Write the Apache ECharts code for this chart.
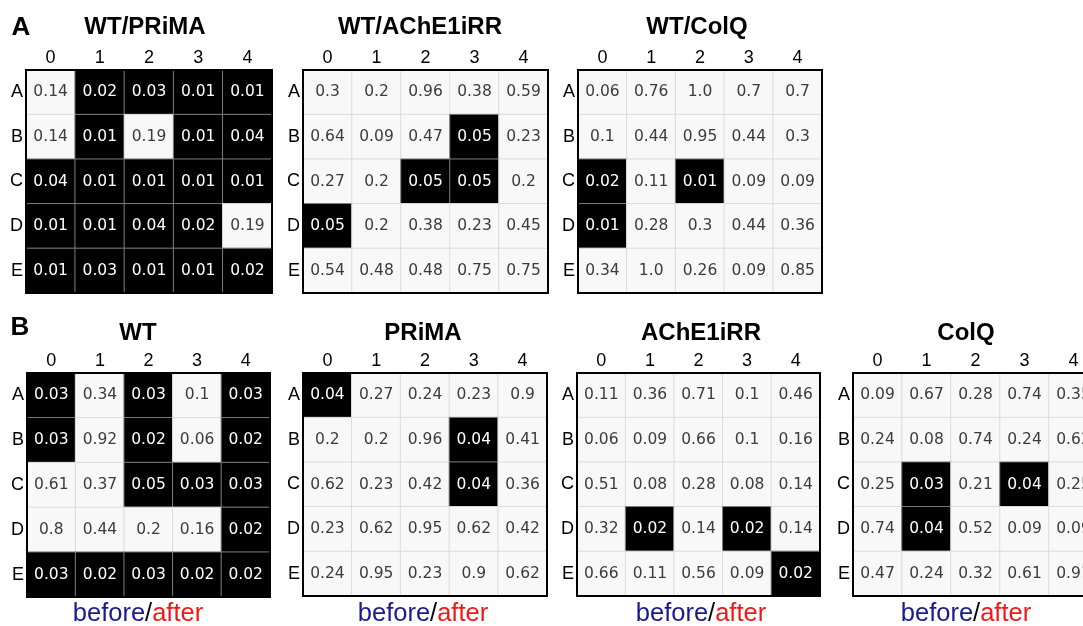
<!DOCTYPE html>
<html><head><meta charset="utf-8">
<script src="https://cdn.jsdelivr.net/npm/echarts@6/dist/echarts.min.js"></script>
<style>html,body{margin:0;padding:0;background:#fff}#c{width:1083px;height:626px}</style>
</head><body><div id="c"></div>
<script>
// ---- data ----
const colLabels = ['0', '1', '2', '3', '4'];
const rowLabels = ['A', 'B', 'C', 'D', 'E'];
const panelTitles = ['WT/PRiMA', 'WT/AChE1iRR', 'WT/ColQ', 'WT', 'PRiMA', 'AChE1iRR', 'ColQ'];
const sectionLetters = ['A', 'B'];
const wtPrima = [
  [0.14, 0.02, 0.03, 0.01, 0.01],
  [0.14, 0.01, 0.19, 0.01, 0.04],
  [0.04, 0.01, 0.01, 0.01, 0.01],
  [0.01, 0.01, 0.04, 0.02, 0.19],
  [0.01, 0.03, 0.01, 0.01, 0.02]
];
const wtAche = [
  [0.3, 0.2, 0.96, 0.38, 0.59],
  [0.64, 0.09, 0.47, 0.05, 0.23],
  [0.27, 0.2, 0.05, 0.05, 0.2],
  [0.05, 0.2, 0.38, 0.23, 0.45],
  [0.54, 0.48, 0.48, 0.75, 0.75]
];
const wtColq = [
  [0.06, 0.76, 1.0, 0.7, 0.7],
  [0.1, 0.44, 0.95, 0.44, 0.3],
  [0.02, 0.11, 0.01, 0.09, 0.09],
  [0.01, 0.28, 0.3, 0.44, 0.36],
  [0.34, 1.0, 0.26, 0.09, 0.85]
];
const wt = [
  [0.03, 0.34, 0.03, 0.1, 0.03],
  [0.03, 0.92, 0.02, 0.06, 0.02],
  [0.61, 0.37, 0.05, 0.03, 0.03],
  [0.8, 0.44, 0.2, 0.16, 0.02],
  [0.03, 0.02, 0.03, 0.02, 0.02]
];
const prima = [
  [0.04, 0.27, 0.24, 0.23, 0.9],
  [0.2, 0.2, 0.96, 0.04, 0.41],
  [0.62, 0.23, 0.42, 0.04, 0.36],
  [0.23, 0.62, 0.95, 0.62, 0.42],
  [0.24, 0.95, 0.23, 0.9, 0.62]
];
const ache = [
  [0.11, 0.36, 0.71, 0.1, 0.46],
  [0.06, 0.09, 0.66, 0.1, 0.16],
  [0.51, 0.08, 0.28, 0.08, 0.14],
  [0.32, 0.02, 0.14, 0.02, 0.14],
  [0.66, 0.11, 0.56, 0.09, 0.02]
];
const colq = [
  [0.09, 0.67, 0.28, 0.74, 0.35],
  [0.24, 0.08, 0.74, 0.24, 0.62],
  [0.25, 0.03, 0.21, 0.04, 0.25],
  [0.74, 0.04, 0.52, 0.09, 0.09],
  [0.47, 0.24, 0.32, 0.61, 0.91]
];
const panelValues = [wtPrima, wtAche, wtColq, wt, prima, ache, colq];
const threshold = 0.05;

// ---- layout ----
const gridBoxes = [
  {left: 26, top: 70, width: 246, height: 223},
  {left: 303, top: 70, width: 245, height: 223},
  {left: 578, top: 70, width: 244, height: 223},
  {left: 27, top: 373, width: 243, height: 224},
  {left: 303, top: 373, width: 244, height: 223},
  {left: 577, top: 373, width: 243, height: 223},
  {left: 853, top: 373, width: 245, height: 223}
];
const titleCenters = [145, 420, 697, 138, 423, 701, 966];
const letterPos = [{x: 21, y: 28}, {x: 20, y: 328}];
const footerPanels = [3, 4, 5, 6];

const fmt = v => Number.isInteger(v) ? v.toFixed(1) : String(v);
const AX_FONT = 'Liberation Sans, Arial, sans-serif';

const grids = [], xAxes = [], yAxes = [], series = [], titles = [];
panelValues.forEach((vals, i) => {
  const g = gridBoxes[i];
  grids.push({left: g.left, top: g.top, width: g.width, height: g.height, show: true,
    outerBoundsMode: 'none', containLabel: false,
    backgroundColor: 'transparent', borderColor: '#000', borderWidth: 2, z: 10});
  xAxes.push({gridIndex: i, type: 'category', data: colLabels, position: 'top',
    axisLine: {show: false}, axisTick: {show: false}, splitLine: {show: false},
    axisLabel: {fontSize: 18, color: '#000', margin: 3, fontFamily: AX_FONT}});
  yAxes.push({gridIndex: i, type: 'category', data: rowLabels, inverse: true,
    axisLine: {show: false}, axisTick: {show: false}, splitLine: {show: false},
    axisLabel: {fontSize: 18, color: '#000', margin: 3, fontFamily: AX_FONT}});
  const data = [];
  vals.forEach((row, ri) => row.forEach((v, ci) => {
    const dark = v <= threshold;
    data.push({
      value: [ci, ri, v],
      itemStyle: {color: dark ? '#000' : '#f8f8f8', borderColor: dark ? '#7c7c7c' : '#dcdcdc', borderWidth: 1},
      label: {color: dark ? '#fff' : '#3c3c3c'}
    });
  }));
  series.push({type: 'heatmap', xAxisIndex: i, yAxisIndex: i, data: data, z: 2,
    label: {show: true, fontSize: 15.5, fontFamily: 'DejaVu Sans, sans-serif', formatter: p => fmt(p.value[2])},
    emphasis: {disabled: true}});
  titles.push({text: panelTitles[i], left: titleCenters[i], top: i < 3 ? 27 : 333,
    textAlign: 'center', textVerticalAlign: 'middle', padding: 0,
    textStyle: {fontSize: 24, fontWeight: 'bold', color: '#000', fontFamily: AX_FONT}});
});
sectionLetters.forEach((s, k) => {
  titles.push({text: s, left: letterPos[k].x, top: letterPos[k].y, textAlign: 'center',
    textVerticalAlign: 'middle', padding: 0,
    textStyle: {fontSize: 26, fontWeight: 'bold', color: '#000', fontFamily: AX_FONT}});
});
footerPanels.forEach(i => {
  titles.push({text: '{b|before}{s|/}{a|after}', left: titleCenters[i], top: 614,
    textAlign: 'center', textVerticalAlign: 'middle', padding: 0,
    textStyle: {fontSize: 25.5, fontWeight: 'normal', fontFamily: AX_FONT,
      rich: {b: {color: '#1a1a8e', fontSize: 25.5, fontWeight: 'normal', fontFamily: AX_FONT},
             s: {color: '#000', fontSize: 25.5, fontWeight: 'normal', fontFamily: AX_FONT},
             a: {color: '#f01818', fontSize: 25.5, fontWeight: 'normal', fontFamily: AX_FONT}}}});
});

const chart = echarts.init(document.getElementById('c'), null, {renderer: 'canvas'});
chart.setOption({animation: false, backgroundColor: '#fff', title: titles, grid: grids,
  xAxis: xAxes, yAxis: yAxes, series: series, tooltip: {show: false}});
</script></body></html>
